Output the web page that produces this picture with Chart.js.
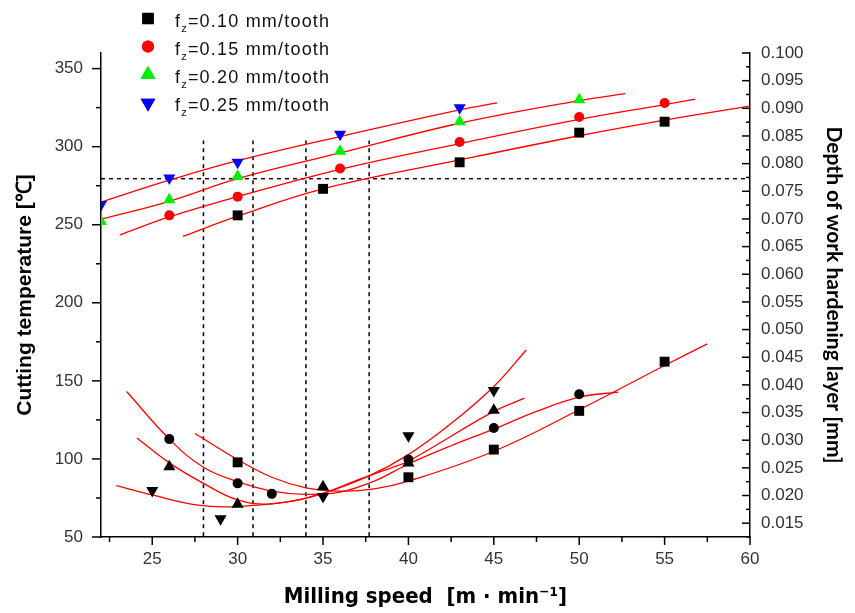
<!DOCTYPE html>
<html>
<head>
<meta charset="utf-8">
<script src="https://cdn.jsdelivr.net/npm/chart.js@4.4.0/dist/chart.umd.min.js"></script>
<style>
  html, body { margin: 0; padding: 0; background: #fff; }
  #box { width: 855px; height: 613px; }
</style>
</head>
<body>
<div id="box"><canvas id="speedChart" width="855" height="613"></canvas></div>
<script>
// feed rates (legend)
var feedLabels = ['0.10 mm/tooth', '0.15 mm/tooth', '0.20 mm/tooth', '0.25 mm/tooth'];

// cutting temperature, measured points (left axis)
var temp10X = [30, 35, 43, 50, 55];
var temp10Y = [256, 273, 290, 309, 316];
var temp15X = [26, 30, 36, 43, 50, 55];
var temp15Y = [256, 268, 286, 303, 319, 328];
var temp20X = [22, 26, 30, 36, 43, 50];
var temp20Y = [252, 266, 281, 297, 316, 330];
var temp25X = [22, 26, 30, 36, 43];
var temp25Y = [263, 280, 290, 308, 325];

// cutting temperature, fitted curves
var tfit10X = [26.8, 30, 35, 43, 50, 55, 60];
var tfit10Y = [242.5, 255.5, 273, 291.5, 307, 317, 326];
var tfit15X = [23.1, 26, 30, 36, 43, 50, 55, 56.8];
var tfit15Y = [243.5, 255, 268, 285.5, 302, 317.5, 327, 330.5];
var tfit20X = [22, 26, 30, 36, 43, 50, 52.7];
var tfit20Y = [253.5, 265, 279.5, 296, 315, 329.5, 334];
var tfit25X = [22, 26, 30, 36, 43, 45.2];
var tfit25Y = [264.5, 278.5, 291, 306.5, 323.5, 328];

// depth of work hardening layer, measured points (right axis)
var depth10X = [30, 40, 45, 50, 55];
var depth10Y = [0.0260, 0.0233, 0.0283, 0.0353, 0.0442];
var depth15X = [26, 30, 32, 40, 45, 50];
var depth15Y = [0.0302, 0.0222, 0.0203, 0.0265, 0.0322, 0.0383];
var depth20X = [26, 30, 35, 40, 45];
var depth20Y = [0.0252, 0.0184, 0.0216, 0.0259, 0.0354];
var depth25X = [25, 29, 35, 40, 45];
var depth25Y = [0.0209, 0.0158, 0.0198, 0.0308, 0.0390];

// depth of work hardening layer, fitted curves
var dfit10X = [27.5, 30, 32, 34, 36, 38, 40, 45, 50, 55, 57.5];
var dfit10Y = [0.0312, 0.0265, 0.0233, 0.0214, 0.0208, 0.0212, 0.0226, 0.0280, 0.0355, 0.0435, 0.0474];
var dfit15X = [23.5, 26, 28, 30, 32, 34, 36, 38, 40, 42.5, 45, 47.5, 50, 52.3];
var dfit15Y = [0.0388, 0.0302, 0.0251, 0.0225, 0.0208, 0.0202, 0.0206, 0.0226, 0.0257, 0.0290, 0.0320, 0.0352, 0.0378, 0.0387];
var dfit20X = [24.1, 26, 28, 30, 32, 35, 37, 39, 40, 45, 46.8];
var dfit20Y = [0.0304, 0.0259, 0.0222, 0.0192, 0.0185, 0.0204, 0.0228, 0.0250, 0.0262, 0.0352, 0.0376];
var dfit25X = [22.9, 25, 27.8, 30, 33, 35, 37.6, 40, 42.5, 45, 46.9];
var dfit25Y = [0.0218, 0.0201, 0.0182, 0.0180, 0.0189, 0.0204, 0.0234, 0.0274, 0.0330, 0.0397, 0.0463];

// dashed guide lines
var guideSpeeds = [28, 30.9, 34, 37.7];
var guideTempRange = [50.5, 304];
var guideTemp = 279.5;

// axis ticks
var xTicks = [25, 30, 35, 40, 45, 50, 55, 60];
var xMinor = [22.5, 27.5, 32.5, 37.5, 42.5, 47.5, 52.5, 57.5];
var tempTicks = [50, 100, 150, 200, 250, 300, 350];
var tempMinor = [75, 125, 175, 225, 275, 325];
var depthTicks = [0.015, 0.02, 0.025, 0.03, 0.035, 0.04, 0.045, 0.05, 0.055, 0.06, 0.065, 0.07, 0.075, 0.08, 0.085, 0.09, 0.095, 0.1];
var depthMinor = [0.0125, 0.0175, 0.0225, 0.0275, 0.0325, 0.0375, 0.0425, 0.0475, 0.0525, 0.0575, 0.0625, 0.0675, 0.0725, 0.0775, 0.0825, 0.0875, 0.0925, 0.0975];

function pts(xs, ys) {
    return xs.map(function (x, i) { return {x: x, y: ys[i]}; });
}

var tickFont = {family: "'Liberation Sans', Arial, sans-serif", size: 17};
var markerStyles = [
    {pointStyle: 'rect', radius: 7, rotation: 0, color: '#000000'},
    {pointStyle: 'circle', radius: 5, rotation: 0, color: '#ff0000'},
    {pointStyle: 'triangle', radius: 7, rotation: 0, color: '#00ee00'},
    {pointStyle: 'triangle', radius: 7, rotation: 180, color: '#0000ff'}
];

function markerSet(data, st, color, axis) {
    return {
        data: data, yAxisID: axis, order: 0, showLine: false,
        pointStyle: st.pointStyle, pointRotation: st.rotation, pointRadius: st.radius,
        backgroundColor: color, borderColor: color, borderWidth: 0
    };
}
function fitSet(data, axis) {
    return {
        data: data, yAxisID: axis, order: 1, showLine: true, tension: 0.4,
        borderColor: '#ff0000', borderWidth: 1.3, pointRadius: 0, fill: false
    };
}
function dashSet(data) {
    return {
        data: data, yAxisID: 'y', order: 2, showLine: true, tension: 0,
        borderColor: '#000000', borderWidth: 1.5, borderDash: [4, 4], pointRadius: 0, fill: false
    };
}

var datasets = [
    markerSet(pts(temp10X, temp10Y), markerStyles[0], '#000000', 'y'),
    markerSet(pts(temp15X, temp15Y), markerStyles[1], '#ff0000', 'y'),
    markerSet(pts(temp20X, temp20Y), markerStyles[2], '#00ee00', 'y'),
    markerSet(pts(temp25X, temp25Y), markerStyles[3], '#0000ff', 'y'),
    markerSet(pts(depth10X, depth10Y), markerStyles[0], '#000000', 'y2'),
    markerSet(pts(depth15X, depth15Y), markerStyles[1], '#000000', 'y2'),
    markerSet(pts(depth20X, depth20Y), markerStyles[2], '#000000', 'y2'),
    markerSet(pts(depth25X, depth25Y), markerStyles[3], '#000000', 'y2'),
    fitSet(pts(tfit10X, tfit10Y), 'y'),
    fitSet(pts(tfit15X, tfit15Y), 'y'),
    fitSet(pts(tfit20X, tfit20Y), 'y'),
    fitSet(pts(tfit25X, tfit25Y), 'y'),
    fitSet(pts(dfit10X, dfit10Y), 'y2'),
    fitSet(pts(dfit15X, dfit15Y), 'y2'),
    fitSet(pts(dfit20X, dfit20Y), 'y2'),
    fitSet(pts(dfit25X, dfit25Y), 'y2'),
    dashSet([{x: 22, y: guideTemp}, {x: 60, y: guideTemp}])
];
guideSpeeds.forEach(function (s) {
    datasets.push(dashSet([{x: s, y: guideTempRange[0]}, {x: s, y: guideTempRange[1]}]));
});

// tick marks (major + minor) and the legend with subscripts
var decoPlugin = {
    id: 'deco',
    afterDraw: function (chart) {
        var ctx = chart.ctx;
        var xs = chart.scales.x, ys = chart.scales.y, ds = chart.scales.y2;
        var area = chart.chartArea;
        ctx.save();
        ctx.strokeStyle = '#000';
        ctx.lineWidth = 1.5;
        function seg(x1, y1, x2, y2) {
            ctx.beginPath(); ctx.moveTo(x1, y1); ctx.lineTo(x2, y2); ctx.stroke();
        }
        tempTicks.forEach(function (v) { var p = ys.getPixelForValue(v); seg(area.left - 9, p, area.left, p); });
        tempMinor.forEach(function (v) { var p = ys.getPixelForValue(v); seg(area.left - 5, p, area.left, p); });
        depthTicks.forEach(function (v) { var p = ds.getPixelForValue(v); seg(area.right - 8, p, area.right, p); });
        depthMinor.forEach(function (v) { var p = ds.getPixelForValue(v); seg(area.right - 4, p, area.right, p); });
        xTicks.forEach(function (v) { var p = xs.getPixelForValue(v); seg(p, area.bottom, p, area.bottom + 8); });
        xMinor.forEach(function (v) { var p = xs.getPixelForValue(v); seg(p, area.bottom, p, area.bottom + 5); });

        // legend
        var rowsY = [18.5, 46.5, 74.5, 103];
        var legendColors = ['#000000', '#ff0000', '#00ee00', '#0000ff'];
        var legendRadius = [8, 6, 8.5, 8.5];
        ctx.textBaseline = 'alphabetic';
        ctx.fillStyle = '#000';
        if ('letterSpacing' in ctx) ctx.letterSpacing = '1.2px';
        feedLabels.forEach(function (lab, i) {
            var st = markerStyles[i];
            ctx.fillStyle = legendColors[i];
            ctx.strokeStyle = legendColors[i];
            Chart.helpers.drawPoint(ctx, {pointStyle: st.pointStyle, radius: legendRadius[i], rotation: st.rotation, borderWidth: 0}, 148, rowsY[i]);
            ctx.fill();
            var base = rowsY[i] + 8;
            var x = 175;
            ctx.fillStyle = '#111';
            ctx.font = "18px 'Liberation Sans', Arial, sans-serif";
            ctx.fillText('f', x, base);
            x += ctx.measureText('f').width;
            ctx.font = "11px 'Liberation Sans', Arial, sans-serif";
            ctx.fillText('z', x, base + 5);
            x += ctx.measureText('z').width;
            ctx.font = "18px 'Liberation Sans', Arial, sans-serif";
            ctx.fillText('=' + lab, x, base);
        });
        ctx.restore();
    }
};

new Chart(document.getElementById('speedChart'), {
    type: 'scatter',
    data: {datasets: datasets},
    options: {
        responsive: false,
        animation: false,
        layout: {padding: {top: 53, left: 0, right: 0, bottom: 0}},
        plugins: {legend: {display: false}, tooltip: {enabled: false}},
        scales: {
            x: {
                type: 'linear', position: 'bottom', min: 22, max: 60,
                afterBuildTicks: function (s) { s.ticks = xTicks.map(function (v) { return {value: v}; }); },
                afterFit: function (s) { s.height = 76; },
                grid: {display: true, drawOnChartArea: false, drawTicks: false},
                border: {display: true, color: '#000', width: 1.5},
                ticks: {font: tickFont, color: '#333', padding: 12, maxRotation: 0},
                title: {
                    display: true, text: 'Milling speed  [m \u00b7 min\u207b\u00b9]', color: '#000',
                    font: {family: "'Liberation Sans Narrow', 'DejaVu Sans Condensed', Arial, sans-serif", size: 22, weight: 'bold'},
                    padding: {top: 0, bottom: 3}
                }
            },
            y: {
                type: 'linear', position: 'left', min: 50, max: 360,
                afterBuildTicks: function (s) { s.ticks = tempTicks.map(function (v) { return {value: v}; }); },
                afterFit: function (s) { s.width = 101; },
                grid: {display: true, drawOnChartArea: false, drawTicks: false},
                border: {display: true, color: '#000', width: 1.5},
                ticks: {font: tickFont, color: '#333', padding: 18},
                title: {
                    display: true, text: 'Cutting temperature [\u2103]', color: '#000',
                    font: {family: "'Liberation Sans', Arial, sans-serif", size: 21, weight: 'bold'},
                    padding: {top: 13, bottom: 0}
                }
            },
            y2: {
                type: 'linear', position: 'right', min: 0.0125, max: 0.1,
                afterBuildTicks: function (s) { s.ticks = depthTicks.map(function (v) { return {value: v}; }); },
                afterFit: function (s) { s.width = 105; },
                grid: {display: true, drawOnChartArea: false, drawTicks: false},
                border: {display: true, color: '#000', width: 1.5},
                ticks: {font: tickFont, color: '#333', padding: 11, callback: function (v) { return v.toFixed(3); }},
                title: {
                    display: true, text: 'Depth of work hardening layer [mm]', color: '#000',
                    font: {family: "Lato, 'Open Sans', sans-serif", size: 21, weight: 'bold'},
                    padding: {top: 9, bottom: 0}
                }
            }
        }
    },
    plugins: [decoPlugin]
});
</script>
</body>
</html>
